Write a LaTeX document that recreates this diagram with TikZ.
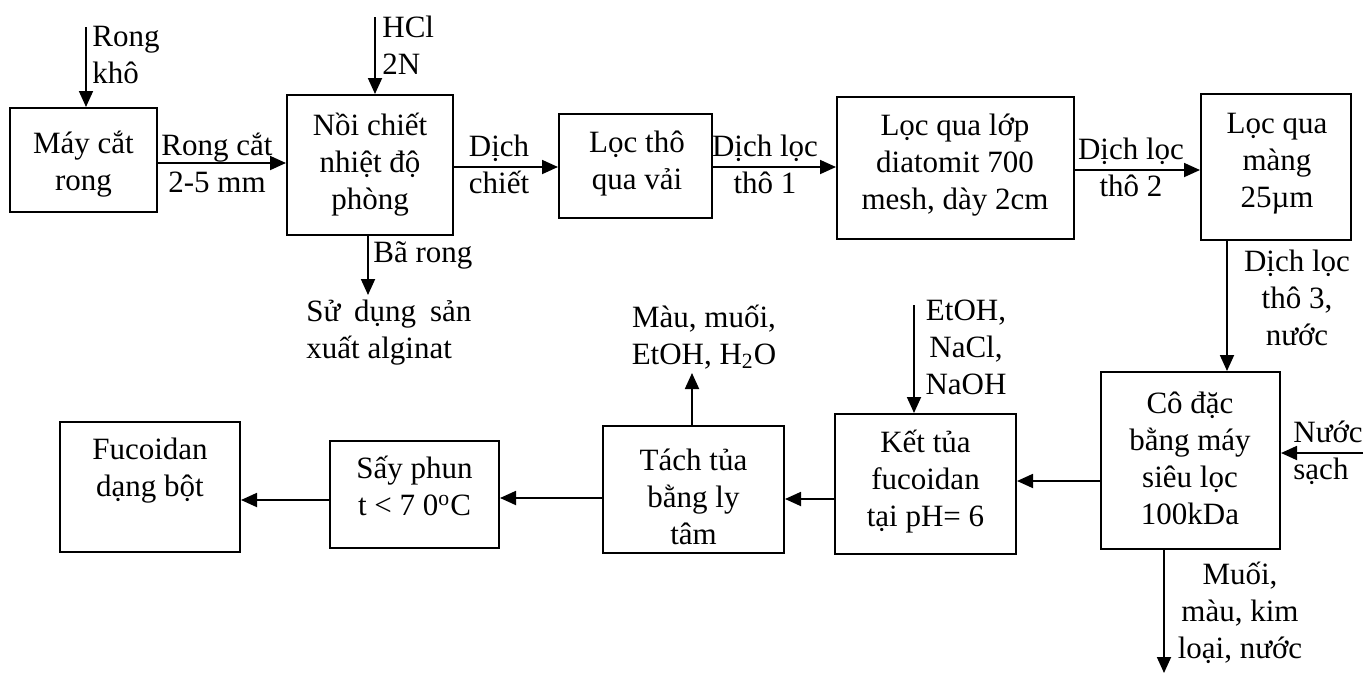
\documentclass[tikz,border=0pt]{standalone}
\usepackage{fontspec}
\setmainfont{Liberation Serif}
\usetikzlibrary{arrows.meta}
\begin{document}
\begin{tikzpicture}[x=0.5pt,y=-0.5pt,
  box/.style={draw, line width=1pt, inner sep=0pt},
  txt/.style={align=center, inner sep=0pt, font=\fontsize{15.5}{18.5}\selectfont},
  ltxt/.style={txt, align=left, anchor=west},
  arr/.style={line width=0.9pt, -{Triangle[length=8pt,width=7pt]}},
]
\useasboundingbox (0,0) rectangle (1365,675);

% process boxes
\node[box, minimum width=73.5pt, minimum height=52pt]   (b1)  at (83.5,160) {};
\node[box, minimum width=83pt,   minimum height=70pt]   (b2)  at (370,165) {};
\node[box, minimum width=76.5pt, minimum height=52pt]   (b3)  at (635.5,166) {};
\node[box, minimum width=118.5pt,minimum height=71pt]   (b4)  at (955.5,168) {};
\node[box, minimum width=75pt,   minimum height=73pt]   (b5)  at (1276,167) {};
\node[box, minimum width=89.5pt, minimum height=88.5pt] (b6)  at (1190.5,460.5) {};
\node[box, minimum width=90.5pt, minimum height=70pt]   (b7)  at (925.5,484) {};
\node[box, minimum width=90.5pt, minimum height=63.5pt] (b8)  at (693.5,489.5) {};
\node[box, minimum width=84.5pt, minimum height=53.5pt] (b9)  at (414.5,494.5) {};
\node[box, minimum width=90pt,   minimum height=65pt]   (b10) at (150,487) {};

% box texts
\node[txt] (t1)  at (83.5,164.5) {Máy cắt\\rong};
\node[txt] (t2)  at (370,165)    {Nồi chiết\\nhiệt độ\\phòng};
\node[txt] (t3)  at (637,164)    {Lọc thô\\qua vải};
\node[txt] (t4)  at (955,165)    {Lọc qua lớp\\diatomit 700\\mesh, dày 2cm};
\node[txt] (t5)  at (1277,164)   {Lọc qua\\màng\\25µm};
\node[txt] (t6)  at (1190,458)   {Cô đặc\\bằng máy\\siêu lọc\\100kDa};
\node[txt] (t7)  at (925.5,482)  {Kết tủa\\fucoidan\\tại pH= 6};
\node[txt] (t8)  at (693.5,497)  {Tách tủa\\bằng ly\\tâm};
\node[txt] (t9)  at (414.5,486)  {Sấy phun\\t < 7 0\textsuperscript{o}C};
\node[txt] (t10) at (150,471)    {Fucoidan\\dạng bột};

% stream labels
\node[ltxt] (lrk)  at (92,55)    {Rong\\khô};
\node[ltxt] (lhcl) at (382,45)   {HCl\\2N};
\node[txt]  (l12)  at (217,163)  {Rong cắt\\2-5 mm};
\node[txt]  (l23)  at (499,164)  {Dịch\\chiết};
\node[txt]  (l34)  at (765,164)  {Dịch lọc\\thô 1};
\node[txt]  (l45)  at (1131,167) {Dịch lọc\\thô 2};
\node[txt]  (l56)  at (1297,298) {Dịch lọc\\thô 3,\\nước};
\node[ltxt] (lba)  at (373,255)  {Bã rong};
\node[ltxt] (lsu)  at (306,333)  {\makebox[82.5pt][s]{Sử dụng sản}\\xuất alginat};
\node[txt]  (lmau) at (704,337)  {Màu, muối,\\EtOH, H\textsubscript{2}O};
\node[txt]  (let)  at (966,347)  {EtOH,\\NaCl,\\NaOH};
\node[ltxt] (lnc)  at (1293,453) {Nước\\sạch};
\node[txt]  (lmu)  at (1240,613) {Muối,\\màu, kim\\loại, nước};

% free ends and connector levels
\coordinate (rk0) at (86,27);
\coordinate (hc0) at (375,17);
\coordinate (e0)  at (914,305);
\coordinate (n0)  at (1363,453);
\coordinate (m1)  at (1164,673);
\coordinate (vb)  at (368,295);
\coordinate (vu)  at (692,373);
\coordinate (v56) at (1227,0);
\coordinate (h12) at (0,163);
\coordinate (h23) at (0,167);
\coordinate (h45) at (0,170);
\coordinate (h67) at (0,481);
\coordinate (h78) at (0,499);
\coordinate (h89) at (0,498);
\coordinate (h910) at (0,500);

% inputs and outputs
\draw[arr] (rk0) -- (rk0 |- b1.north);
\draw[arr] (hc0) -- (hc0 |- b2.north);
\draw[arr] (b2.south -| vb) -- (vb);
\draw[arr] (e0) -- (e0 |- b7.north);
\draw[arr] (b8.north -| vu) -- (vu);
\draw[arr] (n0) -- (n0 -| b6.east);
\draw[arr] (m1 |- b6.south) -- (m1);

% main flow
\draw[arr] (b1.east |- h12) -- (b2.west |- h12);
\draw[arr] (b2.east |- h23) -- (b3.west |- h23);
\draw[arr] (b3.east |- h23) -- (b4.west |- h23);
\draw[arr] (b4.east |- h45) -- (b5.west |- h45);
\draw[arr] (b5.south -| v56) -- (b6.north -| v56);
\draw[arr] (b6.west |- h67) -- (b7.east |- h67);
\draw[arr] (b7.west |- h78) -- (b8.east |- h78);
\draw[arr] (b8.west |- h89) -- (b9.east |- h89);
\draw[arr] (b9.west |- h910) -- (b10.east |- h910);
\end{tikzpicture}
\end{document}
